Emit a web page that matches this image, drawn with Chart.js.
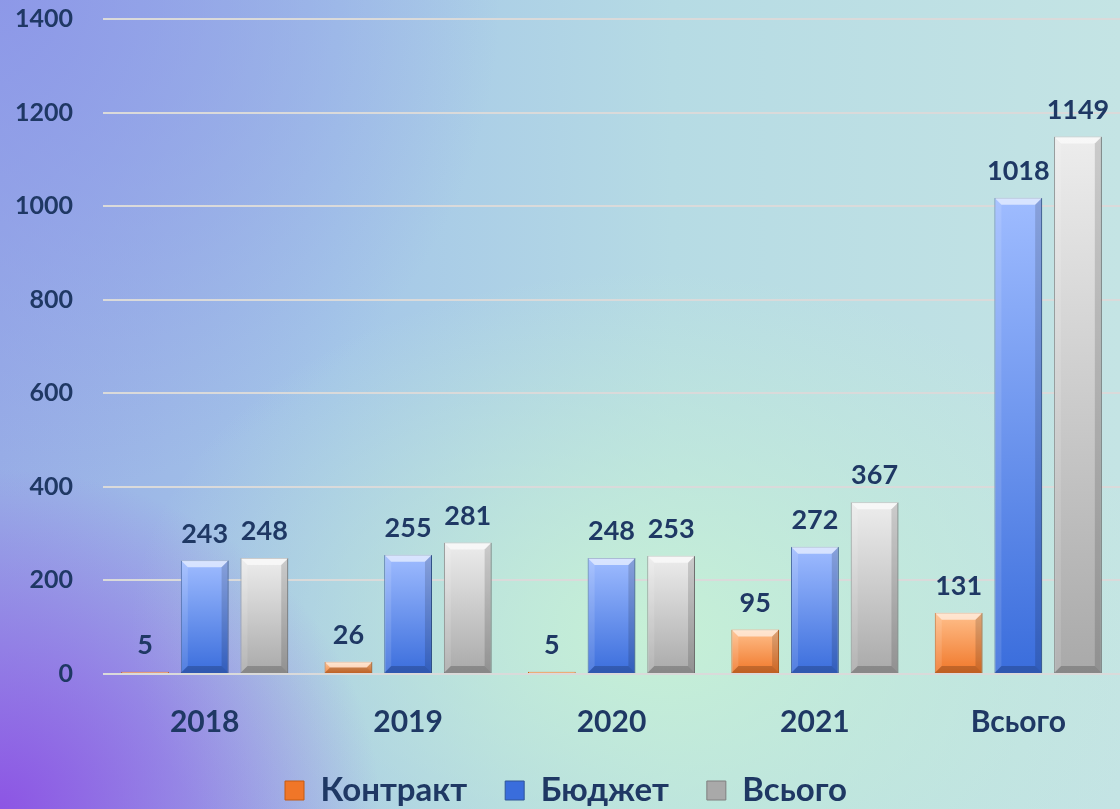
<!DOCTYPE html>
<html>
<head>
<meta charset="utf-8">
<script src="https://cdn.jsdelivr.net/npm/chart.js@4"></script>
<style>
  html, body { margin: 0; padding: 0; }
  body {
    width: 1120px; height: 809px; overflow: hidden;
    background:
      radial-gradient(ellipse 380px 340px at 0% 100%, rgba(140, 80, 228, 0.95), rgba(140, 80, 228, 0) 100%),
      radial-gradient(ellipse 520px 360px at 58% 78%, rgba(198, 240, 214, 1), rgba(198, 240, 214, 0) 100%),
      radial-gradient(ellipse 500px 500px at 0% 0%, rgba(140, 150, 232, 0.9), rgba(140, 150, 232, 0) 100%),
      linear-gradient(90deg, #98aee6 0%, #a4c6e8 30%, #b6dbe4 60%, #c4e4e4 100%);
  }
  canvas { display: block; }
</style>
</head>
<body>
<canvas id="myChart" width="1120" height="809"></canvas>
<script>
// DATA
const categories = ["2018", "2019", "2020", "2021", "Всього"];
const contract = [5, 26, 5, 95, 131];
const budget = [243, 255, 248, 272, 1018];
const total = [248, 281, 253, 367, 1149];
const yTicks = [0, 200, 400, 600, 800, 1000, 1200, 1400];

const navy = "#1f3864";
const font = "Lato, 'Open Sans', sans-serif";

// bar gradient: light on top, darker at the bottom
function barFill(top, bottom, flat) {
  return function (ctx) {
    if (ctx.type !== 'data') return flat;
    const chart = ctx.chart;
    if (!chart.chartArea) return flat;
    const y = chart.scales.y;
    const y0 = y.getPixelForValue(ctx.raw);
    const y1 = y.getPixelForValue(0);
    if (y1 - y0 < 1) return flat;
    const g = chart.ctx.createLinearGradient(0, y0, 0, y1);
    g.addColorStop(0, top);
    g.addColorStop(1, bottom);
    return g;
  };
}

// bevel look + value labels
const bevelPlugin = {
  id: 'bevel',
  afterDatasetsDraw(chart) {
    const c = chart.ctx;
    chart.data.datasets.forEach((ds, i) => {
      const meta = chart.getDatasetMeta(i);
      meta.data.forEach((bar, j) => {
        const x0 = bar.x - bar.width / 2, x1 = bar.x + bar.width / 2;
        const top = bar.y, base = bar.base;
        const h = base - top;
        const b = Math.min(7, h / 2);
        c.save();
        if (h > 2) {
          // top highlight
          c.fillStyle = 'rgba(255,255,255,0.6)';
          c.beginPath();
          c.moveTo(x0, top); c.lineTo(x1, top);
          c.lineTo(x1 - b, top + b); c.lineTo(x0 + b, top + b);
          c.closePath(); c.fill();
          // left side
          c.fillStyle = 'rgba(255,255,255,0.12)';
          c.beginPath();
          c.moveTo(x0, top); c.lineTo(x0 + b, top + b);
          c.lineTo(x0 + b, base - b); c.lineTo(x0, base);
          c.closePath(); c.fill();
          // right side
          c.fillStyle = 'rgba(0,0,0,0.14)';
          c.beginPath();
          c.moveTo(x1, top); c.lineTo(x1 - b, top + b);
          c.lineTo(x1 - b, base - b); c.lineTo(x1, base);
          c.closePath(); c.fill();
          // bottom
          c.fillStyle = 'rgba(0,0,0,0.2)';
          c.beginPath();
          c.moveTo(x0, base); c.lineTo(x0 + b, base - b);
          c.lineTo(x1 - b, base - b); c.lineTo(x1, base);
          c.closePath(); c.fill();
        }
        // value label
        c.fillStyle = navy;
        c.font = "bold 27px " + font;
        c.textAlign = 'center';
        c.textBaseline = 'bottom';
        c.fillText(String(ds.data[j]), bar.x, top - 13);
        c.restore();
      });
    });
  }
};

new Chart("myChart", {
  type: "bar",
  data: {
    labels: categories,
    datasets: [
      {
        label: "Контракт",
        data: contract,
        backgroundColor: barFill("#ffc08c", "#f07628", "#f5893e"),
        borderColor: "#c55a11",
        borderWidth: 1
      },
      {
        label: "Бюджет",
        data: budget,
        backgroundColor: barFill("#9fbcff", "#3a6ddc", "#5b8af0"),
        borderColor: "#2f5597",
        borderWidth: 1
      },
      {
        label: "Всього",
        data: total,
        backgroundColor: barFill("#ededed", "#a9a9a9", "#c8c8c8"),
        borderColor: "#7f7f7f",
        borderWidth: 1
      }
    ]
  },
  options: {
    responsive: false,
    animation: false,
    devicePixelRatio: 1,
    layout: { padding: { left: 12, right: 0, top: 19, bottom: -8 } },
    datasets: {
      bar: { categoryPercentage: 0.88, barPercentage: 0.8 }
    },
    scales: {
      x: {
        afterFit(scale) { scale.height = 62; },
        grid: { display: false, drawTicks: false },
        border: { display: false },
        ticks: {
          color: navy,
          padding: 30,
          maxRotation: 0,
          font: { family: font, size: 30, weight: "bold" }
        }
      },
      y: {
        min: 0,
        max: 1400,
        afterBuildTicks(scale) { scale.ticks = yTicks.map(v => ({ value: v })); },
        afterFit(scale) {
          scale.width = 91;
          scale.paddingTop = 0;
          scale.paddingBottom = 0;
        },
        grid: { color: "#dadada", lineWidth: 2, drawTicks: false },
        border: { display: false },
        ticks: {
          color: navy,
          padding: 30,
          callback: (v) => String(v),
          font: { family: font, size: 25, weight: "bold" }
        }
      }
    },
    plugins: {
      legend: {
        position: "bottom",
        labels: {
          color: navy,
          boxWidth: 19,
          boxHeight: 19,
          padding: 38,
          font: { family: font, size: 33, weight: "bold" }
        }
      },
      tooltip: { enabled: false }
    }
  },
  plugins: [bevelPlugin]
});
</script>
</body>
</html>
